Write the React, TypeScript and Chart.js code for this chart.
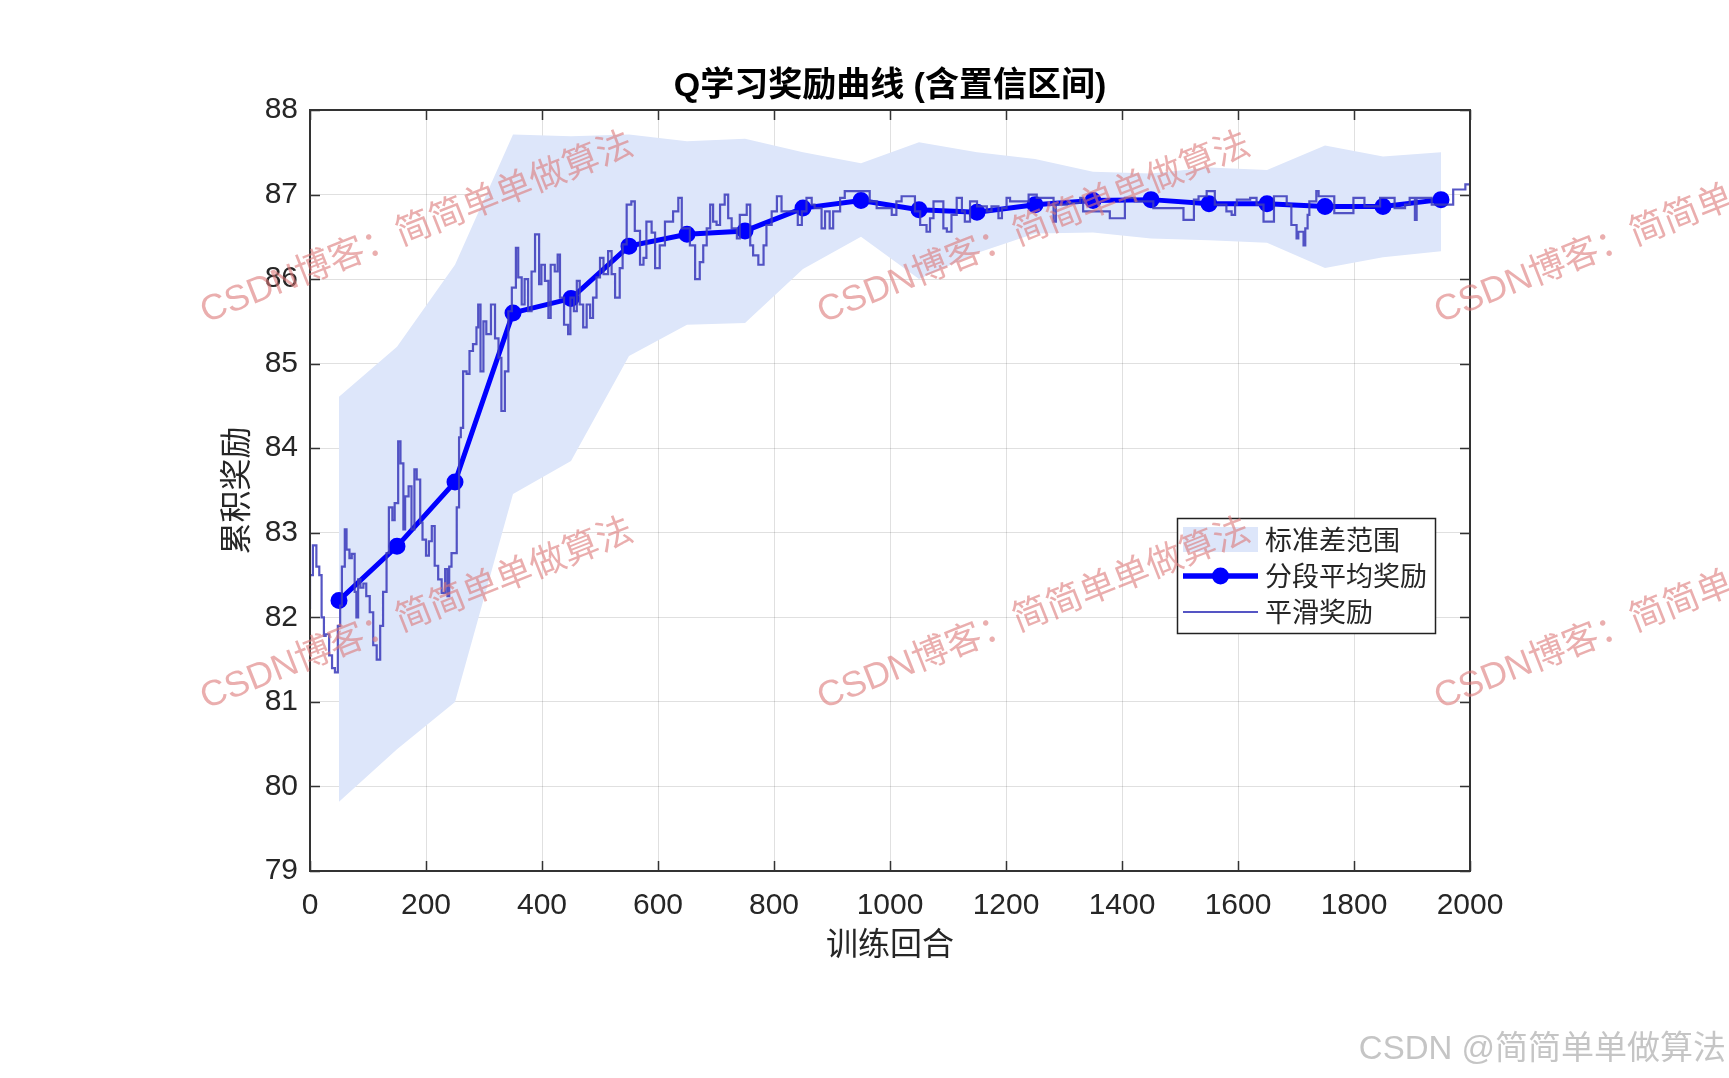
import React, { useEffect, useRef } from "react";
import { Chart, registerables } from "chart.js";

Chart.register(...registerables);

const W = 1729;
const H = 1078;

const TITLE = "Q学习奖励曲线 (含置信区间)";
const X_TITLE = "训练回合";
const Y_TITLE = "累积奖励";
const LEGEND_LABELS = ["标准差范围", "分段平均奖励", "平滑奖励"];
const WATERMARK = "CSDN博客：简简单单做算法";
const FOOTER = "CSDN @简简单单做算法";

const xTicks = [0, 200, 400, 600, 800, 1000, 1200, 1400, 1600, 1800, 2000];
const yTicks = [79, 80, 81, 82, 83, 84, 85, 86, 87, 88];

const smoothEpisodes = [
  0, 5, 11, 16, 20, 24, 27, 33, 38, 43, 48, 52, 55, 60, 63, 68, 72, 77, 80, 83,
  87, 92, 97, 103, 109, 115, 121, 126, 132, 136, 142, 146, 152, 156, 161, 164, 170, 175, 180, 184,
  190, 194, 200, 205, 210, 215, 221, 227, 233, 237, 240, 244, 253, 257, 260, 264, 270, 275, 281, 287,
  290, 294, 299, 304, 312, 319, 325, 330, 336, 342, 348, 355, 359, 365, 370, 376, 382, 388, 395, 399,
  405, 411, 415, 422, 427, 431, 438, 445, 449, 455, 460, 465, 471, 477, 483, 488, 494, 500, 506, 514,
  520, 526, 534, 539, 546, 554, 560, 569, 575, 580, 589, 595, 603, 612, 626, 635, 641, 655, 664, 672,
  678, 684, 690, 695, 701, 707, 715, 721, 727, 736, 741, 753, 759, 764, 773, 782, 787, 796, 805, 813,
  841, 848, 856, 865, 870, 882, 888, 896, 902, 914, 922, 965, 977, 1003, 1011, 1020, 1043, 1052, 1063, 1069,
  1075, 1092, 1098, 1106, 1115, 1124, 1129, 1138, 1150, 1167, 1175, 1187, 1193, 1201, 1207, 1239, 1253, 1282, 1286, 1305,
  1328, 1333, 1379, 1405, 1422, 1454, 1506, 1524, 1532, 1546, 1560, 1580, 1589, 1595, 1598, 1621, 1632, 1644, 1662, 1684,
  1692, 1701, 1704, 1713, 1716, 1720, 1723, 1735, 1739, 1766, 1799, 1818, 1845, 1870, 1888, 1896, 1905, 1908, 1934, 1971,
  1992, 2000,
];

const smoothRewards = [
  82.1, 82.5, 82.85, 82.6, 82.5, 82.0, 81.78, 81.8, 81.55, 81.4, 81.35, 81.9, 82.14, 82.6, 83.04, 82.8, 82.7, 82.75, 82.3, 82.0,
  82.45, 82.35, 82.4, 82.25, 82.06, 81.67, 81.5, 81.9, 82.3, 82.76, 83.3, 83.15, 83.35, 84.08, 83.82, 83.04, 83.43, 83.55, 83.04, 83.75,
  83.63, 83.12, 82.92, 82.73, 82.9, 83.08, 82.61, 82.45, 82.29, 82.57, 82.25, 82.6, 82.76, 83.3, 84.13, 84.24, 84.91, 84.88, 85.15, 85.23,
  85.43, 85.7, 84.91, 85.5, 85.35, 85.7, 85.3, 85.07, 84.44, 84.91, 85.62, 85.9, 86.37, 86.02, 85.7, 86.0, 85.62, 86.09, 86.53, 85.94,
  86.17, 85.98, 85.54, 86.17, 86.09, 86.29, 85.78, 85.46, 85.35, 85.78, 85.62, 85.98, 85.7, 85.43, 85.7, 85.54, 85.78, 86.02, 86.25, 86.06,
  86.33, 86.06, 85.78, 86.13, 86.41, 86.88, 86.92, 86.57, 86.17, 86.25, 86.68, 86.55, 86.13, 86.4, 86.68, 86.8, 86.96, 86.6, 86.4, 86.0,
  86.2, 86.4, 86.6, 86.88, 86.68, 86.64, 86.88, 87.0, 86.72, 86.6, 86.48, 86.76, 86.88, 86.4, 86.28, 86.17, 86.4, 86.64, 86.8, 86.98,
  86.8, 86.64, 86.8, 86.96, 86.88, 86.84, 86.6, 86.8, 86.6, 86.8, 86.96, 87.04, 86.92, 86.84, 86.76, 86.92, 86.98, 86.8, 86.64, 86.56,
  86.72, 86.92, 86.6, 86.56, 86.76, 86.96, 86.8, 86.68, 86.92, 86.86, 86.8, 86.86, 86.72, 86.84, 86.96, 86.92, 87.0, 86.96, 86.68, 86.88,
  86.9, 86.96, 86.8, 86.72, 86.96, 86.92, 86.84, 86.7, 86.94, 86.98, 87.04, 86.88, 86.8, 86.76, 86.88, 86.94, 86.96, 86.88, 86.68, 86.98,
  86.88, 86.64, 86.48, 86.56, 86.4, 86.6, 86.76, 86.92, 87.04, 86.98, 86.78, 86.96, 86.86, 86.96, 86.84, 86.88, 86.96, 86.7, 86.96, 86.88,
  87.06, 87.12,
];

const segEpisodes = [50, 150, 250, 350, 450, 550, 650, 750, 850, 950, 1050, 1150, 1250, 1350, 1450, 1550, 1650, 1750, 1850, 1950];
const segMeans = [82.2, 82.84, 83.6, 85.6, 85.77, 86.39, 86.53, 86.57, 86.84, 86.93, 86.82, 86.79, 86.88, 86.93, 86.94, 86.89, 86.89, 86.86, 86.86, 86.94];
const stdUpper = [84.61, 85.2, 86.17, 87.71, 87.69, 87.71, 87.63, 87.66, 87.5, 87.37, 87.62, 87.5, 87.42, 87.27, 87.25, 87.32, 87.29, 87.58, 87.45, 87.5];
const stdLower = [79.82, 80.44, 81.0, 83.46, 83.85, 85.09, 85.46, 85.48, 86.12, 86.5, 86.0, 86.31, 86.54, 86.55, 86.48, 86.46, 86.43, 86.13, 86.26, 86.33];

const BAND_COLOR = "#dde6fa";
const SEG_COLOR = "#0000ff";
const SMOOTH_COLOR = "rgba(62,62,188,0.88)";
const AXIS_COLOR = "#333333";
const TEXT_COLOR = "#262626";
const LATIN_CJK = '"Liberation Sans", Arial, "Noto Sans CJK SC", sans-serif';

const decorPlugin = {
  id: "decor",
  afterDraw(chart: any) {
    const ctx: CanvasRenderingContext2D = chart.ctx;
    const { left, right, top, bottom } = chart.chartArea;
    const xs = chart.scales.x;
    const ys = chart.scales.y;
    ctx.save();

    // inward ticks
    ctx.strokeStyle = AXIS_COLOR;
    ctx.lineWidth = 1.5;
    const tl = 10;
    ctx.beginPath();
    xTicks.forEach((v) => {
      const px = Math.round(xs.getPixelForValue(v)) + 0.5;
      ctx.moveTo(px, bottom);
      ctx.lineTo(px, bottom - tl);
      ctx.moveTo(px, top);
      ctx.lineTo(px, top + tl);
    });
    yTicks.forEach((v) => {
      const py = Math.round(ys.getPixelForValue(v)) + 0.5;
      ctx.moveTo(left, py);
      ctx.lineTo(left + tl, py);
      ctx.moveTo(right, py);
      ctx.lineTo(right - tl, py);
    });
    ctx.stroke();

    // frame
    ctx.lineWidth = 2;
    ctx.strokeRect(left, top, right - left, bottom - top);

    // title
    const cx = (left + right) / 2;
    ctx.fillStyle = "#000";
    ctx.font = "bold 34px " + LATIN_CJK;
    ctx.textAlign = "center";
    ctx.textBaseline = "middle";
    ctx.fillText(TITLE, cx, 87);

    // axis titles
    ctx.fillStyle = TEXT_COLOR;
    ctx.font = "32px " + LATIN_CJK;
    ctx.fillText(X_TITLE, cx, 946);
    ctx.save();
    ctx.translate(238, (top + bottom) / 2);
    ctx.rotate(-Math.PI / 2);
    ctx.fillText(Y_TITLE, 0, 0);
    ctx.restore();

    // legend
    const lx = 1177, ly = 518, lw = 258, lh = 115;
    ctx.fillStyle = "#ffffff";
    ctx.fillRect(lx, ly, lw, lh);
    ctx.strokeStyle = "#222";
    ctx.lineWidth = 1.5;
    ctx.strokeRect(lx + 0.5, ly + 0.5, lw, lh);
    const sx0 = 1183, sx1 = 1258;
    const rows = [539.5, 576, 612];
    ctx.fillStyle = BAND_COLOR;
    ctx.fillRect(sx0, 527, sx1 - sx0, 25);
    ctx.strokeStyle = SEG_COLOR;
    ctx.lineWidth = 5.5;
    ctx.beginPath();
    ctx.moveTo(sx0, rows[1]);
    ctx.lineTo(sx1, rows[1]);
    ctx.stroke();
    ctx.fillStyle = SEG_COLOR;
    ctx.beginPath();
    ctx.arc((sx0 + sx1) / 2, rows[1], 8.5, 0, Math.PI * 2);
    ctx.fill();
    ctx.strokeStyle = SMOOTH_COLOR;
    ctx.lineWidth = 2;
    ctx.beginPath();
    ctx.moveTo(sx0, rows[2]);
    ctx.lineTo(sx1, rows[2]);
    ctx.stroke();
    ctx.fillStyle = TEXT_COLOR;
    ctx.font = '27px "Noto Sans CJK SC", sans-serif';
    ctx.textAlign = "left";
    ctx.textBaseline = "middle";
    LEGEND_LABELS.forEach((t, i) => ctx.fillText(t, 1265, rows[i]));

    // watermarks
    const ang = (-21.6 * Math.PI) / 180;
    ctx.font = '36px "Liberation Sans", Arial, "Noto Sans CJK SC", sans-serif';
    ctx.fillStyle = "rgba(220,120,120,0.6)";
    ctx.textBaseline = "alphabetic";
    const wmX = [206, 823, 1440];
    const wmY = [323, 709];
    wmY.forEach((y) =>
      wmX.forEach((x) => {
        ctx.save();
        ctx.translate(x, y);
        ctx.rotate(ang);
        ctx.fillText(WATERMARK, 0, 0);
        ctx.restore();
      })
    );

    // footer
    ctx.font = '33px "Liberation Sans", Arial, "Noto Sans CJK SC", sans-serif';
    ctx.fillStyle = "rgba(150,150,150,0.55)";
    ctx.textAlign = "right";
    ctx.textBaseline = "middle";
    ctx.fillText(FOOTER, 1726, 1050);

    ctx.restore();
  },
};

export default function App() {
  const canvasRef = useRef<HTMLCanvasElement | null>(null);

  useEffect(() => {
    document.body.style.margin = "0";
    document.body.style.overflow = "hidden";
    const canvas = canvasRef.current;
    if (!canvas) return;

    const smoothData = smoothEpisodes.map((x, i) => ({ x, y: smoothRewards[i] }));
    const segData = segEpisodes.map((x, i) => ({ x, y: segMeans[i] }));
    const upperData = segEpisodes.map((x, i) => ({ x, y: stdUpper[i] }));
    const lowerData = segEpisodes.map((x, i) => ({ x, y: stdLower[i] }));

    const tickFont = { family: '"Liberation Sans", Arial, sans-serif', size: 30 };

    const chart = new Chart(canvas, {
      type: "line",
      data: {
        datasets: [
          {
            label: LEGEND_LABELS[2],
            data: smoothData,
            borderColor: SMOOTH_COLOR,
            borderWidth: 2.2,
            pointRadius: 0,
            stepped: "after",
            fill: false,
            order: 0,
          },
          {
            label: LEGEND_LABELS[1],
            data: segData,
            borderColor: SEG_COLOR,
            backgroundColor: SEG_COLOR,
            borderWidth: 5,
            pointRadius: 7,
            pointBackgroundColor: SEG_COLOR,
            pointBorderColor: SEG_COLOR,
            pointBorderWidth: 3,
            fill: false,
            order: 1,
          },
          {
            label: "lower",
            data: lowerData,
            borderWidth: 0,
            borderColor: "rgba(0,0,0,0)",
            pointRadius: 0,
            fill: false,
            order: 3,
          },
          {
            label: LEGEND_LABELS[0],
            data: upperData,
            borderWidth: 0,
            borderColor: "rgba(0,0,0,0)",
            backgroundColor: BAND_COLOR,
            pointRadius: 0,
            fill: 2,
            order: 2,
          },
        ],
      } as any,
      options: {
        responsive: false,
        animation: false,
        devicePixelRatio: 1,
        layout: { padding: { left: 0, right: 259, top: 110, bottom: 0 } },
        plugins: {
          legend: { display: false },
          tooltip: { enabled: false },
          title: { display: false },
        },
        scales: {
          x: {
            type: "linear",
            min: 0,
            max: 2000,
            afterBuildTicks: (scale: any) => {
              scale.ticks = xTicks.map((v) => ({ value: v }));
            },
            afterFit: (scale: any) => {
              scale.height = 207;
            },
            grid: { color: "rgba(0,0,0,0.12)", lineWidth: 1, drawTicks: false },
            border: { display: false },
            ticks: {
              padding: 17,
              color: TEXT_COLOR,
              font: tickFont,
              maxRotation: 0,
              autoSkip: false,
              callback: (v: any) => String(v),
            },
          },
          y: {
            type: "linear",
            min: 79,
            max: 88,
            afterBuildTicks: (scale: any) => {
              scale.ticks = yTicks.map((v) => ({ value: v }));
            },
            afterFit: (scale: any) => {
              scale.width = 310;
            },
            grid: { color: "rgba(0,0,0,0.12)", lineWidth: 1, drawTicks: false },
            border: { display: false },
            ticks: {
              padding: 12,
              color: TEXT_COLOR,
              font: tickFont,
              autoSkip: false,
              callback: (v: any) => String(v),
            },
          },
        },
      } as any,
      plugins: [decorPlugin],
    });

    return () => chart.destroy();
  }, []);

  return (
    <div style={{ position: "relative", width: W, height: H, background: "#fff" }}>
      <canvas ref={canvasRef} width={W} height={H} style={{ display: "block", width: W, height: H }} />
    </div>
  );
}
